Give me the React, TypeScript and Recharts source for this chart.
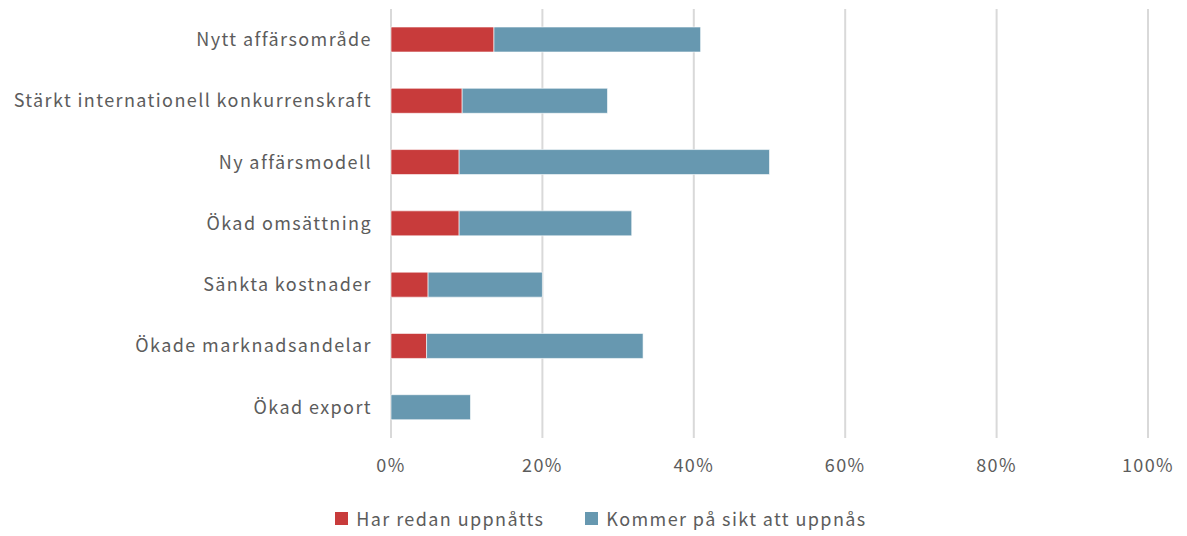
import React from 'react';
import { BarChart, Bar, XAxis, YAxis, CartesianGrid, Legend } from 'recharts';

const categories = [
  'Nytt affärsområde',
  'Stärkt internationell konkurrenskraft',
  'Ny affärsmodell',
  'Ökad omsättning',
  'Sänkta kostnader',
  'Ökade marknadsandelar',
  'Ökad export',
];
const alreadyReached = [13.6, 9.4, 9.0, 9.0, 4.9, 4.7, 0];
const reachedLater = [27.3, 19.2, 41.0, 22.8, 15.1, 28.6, 10.5];
const xTicks = [0, 20, 40, 60, 80, 100];

const seriesNames = ['Har redan uppnåtts', 'Kommer på sikt att uppnås'];
const RED = '#c83b3b';
const BLUE = '#6798b0';
const TEXT = '#5c5c5c';
const FONT = '"Noto Sans CJK JP", "Noto Sans", sans-serif';
const SPACING = 1.4;

const data = categories.map((name, i) => ({
  name,
  redan: alreadyReached[i],
  sikt: reachedLater[i],
}));

const renderLegend = () => {
  const items = [
    { label: seriesNames[0], color: RED },
    { label: seriesNames[1], color: BLUE },
  ];
  return (
    <div style={{ display: 'flex', justifyContent: 'center', gap: 41, paddingLeft: 46, paddingTop: 9, fontFamily: FONT }}>
      {items.map((it) => (
        <div key={it.label} style={{ display: 'flex', alignItems: 'center', gap: 8 }}>
          <div style={{ width: 13, height: 13, backgroundColor: it.color }} />
          <span style={{ fontSize: 18, color: TEXT, letterSpacing: SPACING }}>{it.label}</span>
        </div>
      ))}
    </div>
  );
};

export default function App() {
  return (
    <div style={{ width: 1179, height: 528, fontFamily: FONT }}>
      <BarChart
        width={1179}
        height={528}
        data={data}
        layout="vertical"
        margin={{ top: 1, right: 39, bottom: 0, left: 0 }}
        barCategoryGap="59%"
      >
        <CartesianGrid horizontal={false} stroke="#d9d9d9" strokeWidth={2} />
        <XAxis
          type="number"
          domain={[0, 100]}
          ticks={xTicks}
          tickFormatter={(v: number) => `${v}%`}
          axisLine={false}
          tickLine={false}
          tickSize={0}
          tickMargin={21}
          height={58}
          tick={{ fill: TEXT, fontSize: 18, fontFamily: FONT, letterSpacing: SPACING }}
        />
        <YAxis
          type="category"
          dataKey="name"
          width={383}
          axisLine={false}
          tickLine={false}
          tickSize={0}
          tickMargin={19}
          tick={{ fill: TEXT, fontSize: 18, fontFamily: FONT, letterSpacing: SPACING }}
        />
        <Legend content={renderLegend} verticalAlign="bottom" wrapperStyle={{ height: 40 }} />
        <Bar dataKey="redan" name={seriesNames[0]} stackId="a" fill={RED} stroke="rgba(255,255,255,0.6)" strokeWidth={1} barSize={25} isAnimationActive={false} />
        <Bar dataKey="sikt" name={seriesNames[1]} stackId="a" fill={BLUE} stroke="rgba(255,255,255,0.6)" strokeWidth={1} barSize={25} isAnimationActive={false} />
      </BarChart>
    </div>
  );
}
